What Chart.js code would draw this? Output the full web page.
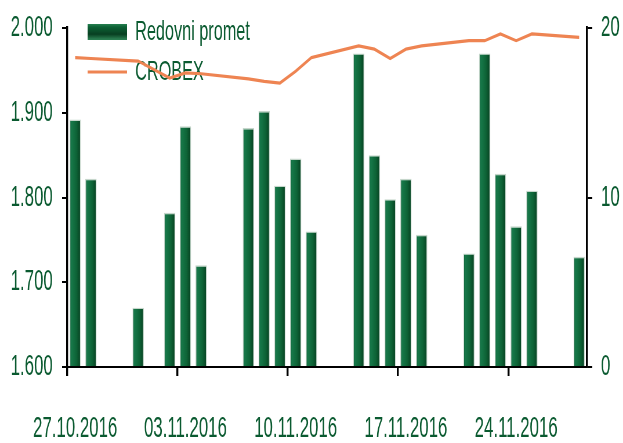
<!DOCTYPE html>
<html>
<head>
<meta charset="utf-8">
<script src="https://cdn.jsdelivr.net/npm/chart.js@4.4.0/dist/chart.umd.min.js"></script>
<style>
  html, body { margin: 0; padding: 0; background: #ffffff; overflow: hidden; }
  #c { display: block; width: 623px; height: 443px; }
</style>
</head>
<body>
<canvas id="c" width="1074" height="443" style="width:623px;height:443px"></canvas>
<script>
// ---- data ----
const categories = [
  '27.10.2016','28.10.2016','29.10.2016','30.10.2016','31.10.2016',
  '01.11.2016','02.11.2016','03.11.2016','04.11.2016','05.11.2016','06.11.2016',
  '07.11.2016','08.11.2016','09.11.2016','10.11.2016','11.11.2016','12.11.2016','13.11.2016',
  '14.11.2016','15.11.2016','16.11.2016','17.11.2016','18.11.2016','19.11.2016','20.11.2016',
  '21.11.2016','22.11.2016','23.11.2016','24.11.2016','25.11.2016','26.11.2016','27.11.2016',
  '28.11.2016'
];
const seriesNames = ['Redovni promet', 'CROBEX'];
const turnover = [
  14.6, 11.1, null, null, 3.5,
  null, 9.1, 14.2, 6.0, null, null,
  14.1, 15.1, 10.7, 12.3, 8.0, null, null,
  18.5, 12.5, 9.9, 11.1, 7.8, null, null,
  6.7, 18.5, 11.4, 8.3, 10.4, null, null,
  6.5
];
const crobex = [
  1965, 1964, null, null, 1961,
  null, 1941, 1947, 1946, null, null,
  1940, 1937, 1935, 1949, 1965, null, null,
  1979, 1975, 1964, 1975, 1979, null, null,
  1985, 1985, 1993, 1985, 1993, null, null,
  1989
];
const leftTicks = [1600, 1700, 1800, 1900, 2000];
const rightTicks = [0, 10, 20];

// ---- style ----
// The canvas is drawn 1074px wide and shown 623px wide (narrow, tall lettering as in the original).
const SX = 623 / 1074;
const textGreen = '#0a5a30';
const lineOrange = '#ee8452';
const FONT = "'Liberation Sans', Arial, sans-serif";
Chart.defaults.font.family = FONT;
Chart.defaults.color = textGreen;

function barFill(c) {
  const ch = c.chart;
  const xs = ch.scales && ch.scales.x;
  if (!xs || c.type !== 'data' || !ch.chartArea) return '#0e6437';
  const cx = xs.getPixelForValue(c.dataIndex);
  const hw = 6 / SX;
  const g = ch.ctx.createLinearGradient(cx - hw, 0, cx + hw, 0);
  g.addColorStop(0, '#0a4b29');
  g.addColorStop(0.18, '#17794a');
  g.addColorStop(0.6, '#0e6437');
  g.addColorStop(1, '#063d1f');
  return g;
}

const legendPos = {
  id: 'legendPos',
  afterLayout(chart) {
    const l = chart.legend;
    if (!l) return;
    const w = l.width, h = l.height;
    l.left = 139; l.top = 6;
    l.right = l.left + w; l.bottom = l.top + h;
  }
};

function fixY(width) {
  return (s) => { s.width = width; s.paddingTop = 0; s.paddingBottom = 0; };
}

new Chart(document.getElementById('c'), {
  data: {
    labels: categories,
    datasets: [
      {
        type: 'line',
        label: seriesNames[1],
        data: crobex,
        yAxisID: 'y',
        borderColor: lineOrange,
        backgroundColor: lineOrange,
        borderWidth: 3.2,
        pointRadius: 0,
        spanGaps: true,
        tension: 0,
        order: 1
      },
      {
        type: 'bar',
        label: seriesNames[0],
        data: turnover,
        yAxisID: 'y1',
        backgroundColor: barFill,
        borderColor: 'rgba(150,180,160,0.55)',
        borderWidth: 1.4,
        borderSkipped: 'bottom',
        categoryPercentage: 1.0,
        barPercentage: 0.72,
        order: 2
      }
    ]
  },
  options: {
    responsive: false,
    maintainAspectRatio: false,
    animation: false,
    devicePixelRatio: 1,
    layout: { padding: { top: 28, left: 0, right: 0, bottom: 0 } },
    plugins: {
      tooltip: { enabled: false },
      legend: {
        position: 'chartArea',
        align: 'start',
        labels: {
          usePointStyle: true,
          pointStyleWidth: 68,
          boxHeight: 16,
          padding: 12,
          color: textGreen,
          font: { size: 28, family: FONT },
          generateLabels: (chart) => {
            const ctx = chart.ctx;
            const g = ctx.createLinearGradient(0, 23, 0, 39);
            g.addColorStop(0, '#2f8a5a');
            g.addColorStop(0.25, '#0d6236');
            g.addColorStop(0.7, '#083f21');
            g.addColorStop(1, '#2a7d50');
            return [
              { text: seriesNames[0], fillStyle: g, strokeStyle: 'rgba(0,0,0,0)', lineWidth: 0,
                pointStyle: 'rect', datasetIndex: 1, fontColor: textGreen, hidden: false },
              { text: seriesNames[1], fillStyle: lineOrange, strokeStyle: lineOrange, lineWidth: 3,
                pointStyle: 'line', datasetIndex: 0, fontColor: textGreen, hidden: false }
            ];
          }
        }
      }
    },
    scales: {
      x: {
        type: 'category',
        offset: true,
        afterFit: (s) => { s.height = 76; s.paddingLeft = 0; s.paddingRight = 0; },
        border: { display: true, color: '#000', width: 2 },
        grid: {
          offset: true,
          drawOnChartArea: false,
          drawTicks: true,
          tickLength: 9,
          lineWidth: 3.4,
          color: (c) => (c.index % 7 === 0 ? '#000' : 'rgba(0,0,0,0)')
        },
        ticks: {
          autoSkip: false,
          maxRotation: 0,
          minRotation: 0,
          padding: 35.5,
          color: textGreen,
          font: { size: 29, family: FONT },
          callback: function (v, i) { return i % 7 === 0 ? categories[i] : ''; }
        }
      },
      y: {
        position: 'left',
        min: leftTicks[0],
        max: leftTicks[leftTicks.length - 1],
        afterFit: fixY(116),
        afterBuildTicks: (s) => { s.ticks = leftTicks.map(v => ({ value: v })); },
        border: { display: true, color: '#000', width: 3.4 },
        grid: { drawOnChartArea: false, drawTicks: true, tickLength: 9, lineWidth: 2, color: '#000' },
        ticks: {
          padding: 16,
          color: textGreen,
          font: { size: 29, family: FONT },
          callback: (v) => Math.floor(v / 1000) + '.' + String(v % 1000).padStart(3, '0')
        }
      },
      y1: {
        position: 'right',
        min: rightTicks[0],
        max: rightTicks[rightTicks.length - 1],
        afterFit: fixY(62),
        afterBuildTicks: (s) => { s.ticks = rightTicks.map(v => ({ value: v })); },
        border: { display: true, color: '#000', width: 3.4 },
        grid: { drawOnChartArea: false, drawTicks: true, tickLength: 9, lineWidth: 2, color: '#000' },
        ticks: {
          padding: 15,
          color: textGreen,
          font: { size: 29, family: FONT },
          callback: (v) => String(v)
        }
      }
    }
  },
  plugins: [legendPos]
});
</script>
</body>
</html>
